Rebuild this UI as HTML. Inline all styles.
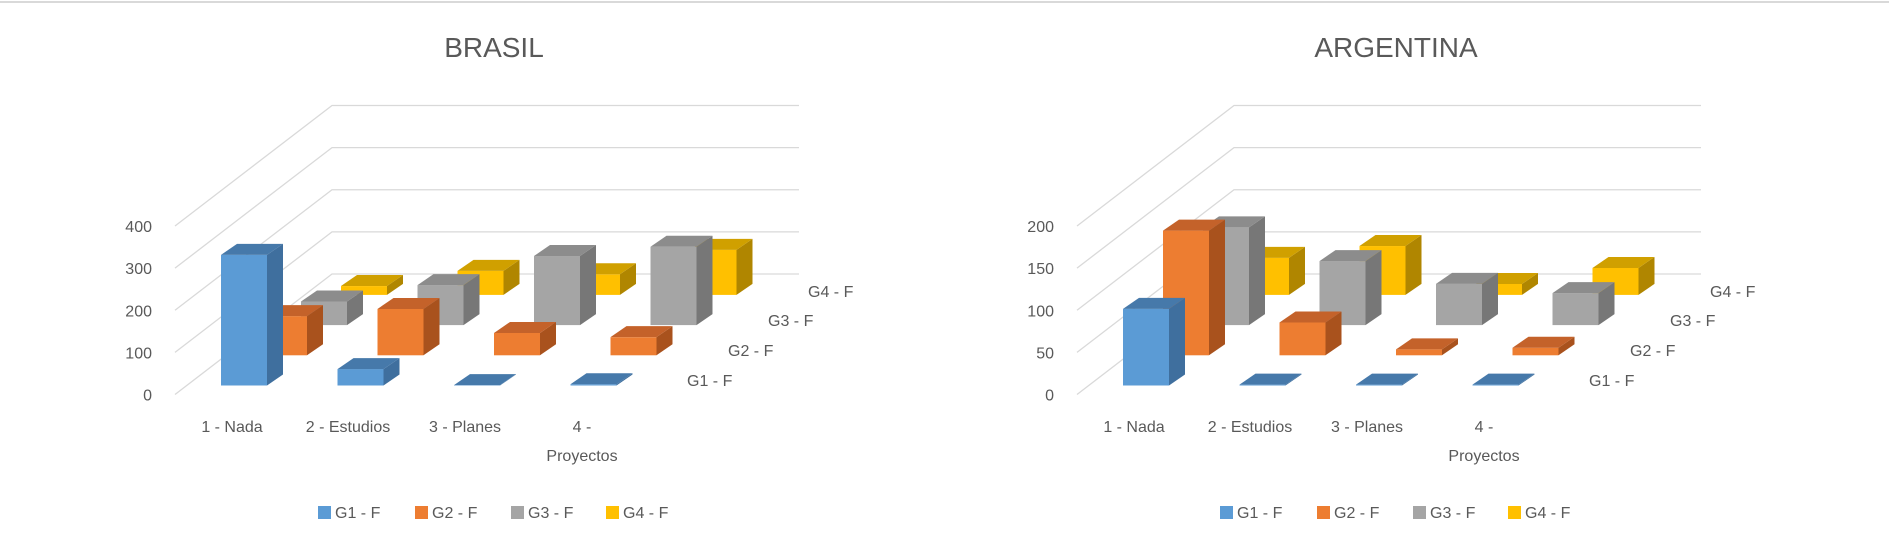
<!DOCTYPE html>
<html><head><meta charset="utf-8"><style>
html,body{margin:0;padding:0;background:#fff;}
svg{display:block;font-family:"Liberation Sans",sans-serif;}
</style></head><body>
<svg id="svg" width="1889" height="546" viewBox="0 0 1889 546">
<line x1="0" y1="2" x2="1889" y2="2" stroke="#d9d9d9" stroke-width="2"/>
</svg>
<script>
const categories = ["1 - Nada", "2 - Estudios", "3 - Planes", "4 - Proyectos"];
const seriesNames = ["G1 - F", "G2 - F", "G3 - F", "G4 - F"];
const brasilG1 = [310, 39, 1, 3];
const brasilG2 = [93, 110, 53, 43];
const brasilG3 = [56, 95, 164, 186];
const brasilG4 = [21, 57, 49, 107];
const brasilTicks = [0, 100, 200, 300, 400];
const argentinaG1 = [91, 1, 1, 1];
const argentinaG2 = [148, 39, 7, 9];
const argentinaG3 = [116, 76, 49, 38];
const argentinaG4 = [44, 58, 13, 32];
const argentinaTicks = [0, 50, 100, 150, 200];

const NS = "http://www.w3.org/2000/svg";
const svg = document.getElementById("svg");
const colors = [
  {f:"#5B9BD5", s:"#3F6F9E", t:"#4679AA"},
  {f:"#ED7D31", s:"#A9521D", t:"#C4622A"},
  {f:"#A5A5A5", s:"#777777", t:"#8C8C8C"},
  {f:"#FFC000", s:"#B08600", t:"#D0A000"}
];
function mk(tag, attrs, parent){
  const e = document.createElementNS(NS, tag);
  for (const k in attrs) e.setAttribute(k, attrs[k]);
  (parent||svg).appendChild(e);
  return e;
}
function drawChart(X0, title, series, ticks, key){
  const g = mk("g", {});
  
  
  const max = ticks[ticks.length-1];
  const k = 168.5 / max;
  const t = mk("text", {x:494+X0, y:57, "text-anchor":"middle", "font-size":28, fill:"#595959"}, g);
  t.textContent = title;
  
  
  ticks.forEach(v => {
    const yf = 394.5 - v*k, yb = 274 - v*k;
    const pl = mk("polyline", {points:`${175+X0},${yf} ${332+X0},${yb} ${799+X0},${yb}`, fill:"none", stroke:"#d9d9d9", "stroke-width":1.3}, g);
    
    
    const tx = mk("text", {x:152+X0, y:yf+6, "text-anchor":"end", "font-size":16, fill:"#595959"}, g);
    tx.textContent = v;
    
    
  });
  const dx = 16, dy = -11, w = 46;
  for (let r = 3; r >= 0; r--) {
    const baseY = 385.5 - r*30.2;
    series[r].forEach((v, c) => {
      const x = 221 + X0 + c*116.5 + r*40;
      const h = v*k, top = baseY - h;
      const bg = mk("g", {}, g);
      
      
      mk("rect", {x:x, y:top, width:w, height:h, fill:colors[r].f}, bg);
      mk("polygon", {points:`${x+w},${baseY} ${x+w+dx},${baseY+dy} ${x+w+dx},${top+dy} ${x+w},${top}`, fill:colors[r].s}, bg);
      mk("polygon", {points:`${x},${top} ${x+dx},${top+dy} ${x+w+dx},${top+dy} ${x+w},${top}`, fill:colors[r].t}, bg);
    });
  }
  const cx = [232, 348, 465, 582];
  categories.forEach((cat, i) => {
    const tx = mk("text", {x:cx[i]+X0, y:432, "text-anchor":"middle", "font-size":16, fill:"#595959"}, g);
    
    
    if (cat === "4 - Proyectos") {
      tx.textContent = "4 -";
      const t2 = mk("text", {x:cx[i]+X0, y:461, "text-anchor":"middle", "font-size":16, fill:"#595959"}, g);
      t2.textContent = "Proyectos";
      
      
    } else tx.textContent = cat;
  });
  const sx = [687, 728, 768, 808], sy = [386, 356, 326, 297];
  seriesNames.forEach((n, i) => {
    const tx = mk("text", {x:sx[i]+X0, y:sy[i], "font-size":16, fill:"#595959"}, g);
    tx.textContent = n;
    
    
  });
  const lx = [318, 415, 511, 606];
  seriesNames.forEach((n, i) => {
    const lg = mk("g", {}, g);
    
    
    mk("rect", {x:lx[i]+X0, y:506, width:13, height:13, fill:colors[i].f}, lg);
    const tx = mk("text", {x:lx[i]+X0+17, y:518, "font-size":16, fill:"#595959"}, lg);
    tx.textContent = n;
  });
}
drawChart(0, "BRASIL", [brasilG1, brasilG2, brasilG3, brasilG4], brasilTicks, "brasil");
drawChart(902, "ARGENTINA", [argentinaG1, argentinaG2, argentinaG3, argentinaG4], argentinaTicks, "argentina");
</script>
</body></html>
